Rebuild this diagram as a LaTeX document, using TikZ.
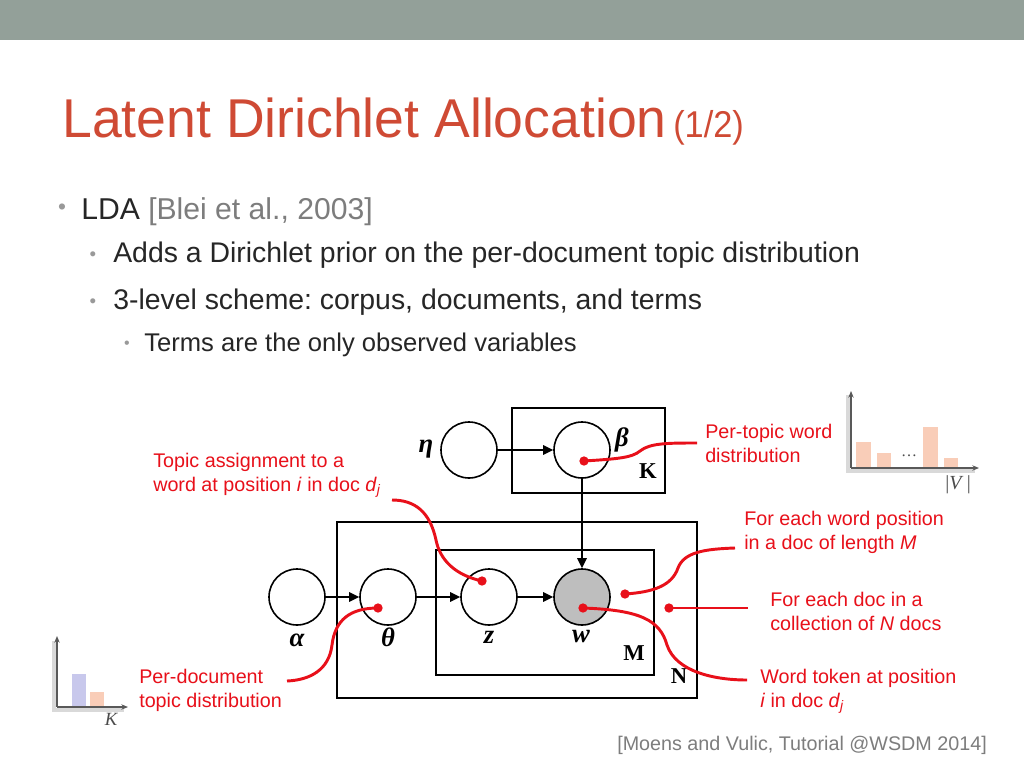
\documentclass[tikz,border=0pt]{standalone}
\usepackage{fontspec}
\setmainfont{Liberation Sans}
\newfontfamily\tms{Liberation Serif}
\usetikzlibrary{arrows.meta}
\frenchspacing
\definecolor{barcol}{RGB}{147,160,153}
\definecolor{titlecol}{RGB}{207,74,52}
\definecolor{callred}{RGB}{232,16,26}
\definecolor{peach}{RGB}{249,205,184}
\definecolor{lav}{RGB}{200,200,236}
\definecolor{txt}{RGB}{38,38,38}
\definecolor{gtxt}{RGB}{125,125,125}
\definecolor{wfill}{RGB}{190,190,190}
\tikzset{
  rv/.style={circle, draw=black, line width=1.2pt, minimum size=42pt, inner sep=0pt},
  obs/.style={rv, fill=wfill},
  plate/.style={draw=black, line width=1.4pt},
  edge/.style={-{Triangle[length=7.5pt,width=7pt]}, line width=1.5pt},
  call/.style={draw=callred, line width=2.2pt},
  rdot/.style={circle, fill=callred, inner sep=0pt, minimum size=7pt},
  lab/.style={font=\fontsize{14.8pt}{18pt}\selectfont, text=callred, align=left, anchor=base west, inner sep=0pt},
  var/.style={font=\tms\bfseries\itshape\fontsize{20pt}{22pt}\selectfont, inner sep=0pt},
  platelab/.style={font=\tms\bfseries\fontsize{17pt}{20pt}\selectfont, inner sep=0pt},
  bul/.style={text=black!40, inner sep=0pt},
  axshadow/.style={draw=black!15, line width=3pt},
  axline/.style={draw=black!65, line width=0.8pt},
}
\begin{document}
\begin{tikzpicture}[x=0.75pt,y=-0.75pt]
\useasboundingbox (0,0) rectangle (1024,768);
\fill[white] (0,0) rectangle (1024,768);
% top bar
\fill[barcol] (0,0) rectangle (1024,40);
% title
\node[anchor=base west, inner sep=0pt, text=titlecol, xscale=0.98, font=\fontsize{41pt}{48pt}\selectfont] (title) at (62,137) {Latent Dirichlet Allocation};
\node[anchor=base west, inner sep=0pt, text=titlecol, xscale=0.92, font=\fontsize{28pt}{32pt}\selectfont] (part) at (673,137) {(1/2)};
% bullets
\node[bul, font=\fontsize{17pt}{20pt}\selectfont] (b1) at (62,209) {•};
\node[anchor=base west, inner sep=0pt, text=txt, font=\fontsize{22.6pt}{27pt}\selectfont] (l1) at (81,219) {LDA \textcolor{gtxt}{[Blei et al., 2003]}};
\node[bul, font=\fontsize{14pt}{16pt}\selectfont] (b2) at (93,256) {•};
\node[anchor=base west, inner sep=0pt, text=txt, font=\fontsize{21.3pt}{24pt}\selectfont] (l2) at (113,262) {Adds a Dirichlet prior on the per-document topic distribution};
\node[bul, font=\fontsize{14pt}{16pt}\selectfont] (b3) at (93,303) {•};
\node[anchor=base west, inner sep=0pt, text=txt, font=\fontsize{21.3pt}{24pt}\selectfont] (l3) at (113,309) {3-level scheme: corpus, documents, and terms};
\node[bul, font=\fontsize{12pt}{14pt}\selectfont] (b4) at (127,345) {•};
\node[anchor=base west, inner sep=0pt, text=txt, font=\fontsize{19.2pt}{22pt}\selectfont] (l4) at (144,351) {Terms are the only observed variables};

% plates
\draw[plate] (512,408) rectangle (665,493);
\draw[plate] (337,522) rectangle (697,698);
\draw[plate] (436,550) rectangle (654,675);
\node[platelab] (Kl) at (648,471) {K};
\node[platelab] (Ml) at (634,653) {M};
\node[platelab] (Nl) at (679,676) {N};

% variables
\node[rv] (eta) at (469,450) {};
\node[rv] (beta) at (582,450) {};
\node[rv] (alpha) at (297,597) {};
\node[rv] (theta) at (388,597) {};
\node[rv] (z) at (489,597) {};
\node[obs] (w) at (582,597) {};
\node[var] (etal) at (426,449) {η};
\node[var] (betal) at (622,440) {β};
\node[var] (alphal) at (297,640) {α};
\node[var] (thetal) at (388,637) {θ};
\node[var] (zl) at (489,637) {z};
\node[var] (wl) at (581,636) {w};

% edges
\draw[edge] (eta) -- (beta);
\draw[edge] (beta) -- (w);
\draw[edge] (alpha) -- (theta);
\draw[edge] (theta) -- (z);
\draw[edge] (z) -- (w);

% callout dots
\node[rdot] (dbeta) at (584,461) {};
\node[rdot] (dz) at (482,581) {};
\node[rdot] (dtheta) at (378,608) {};
\node[rdot] (dw) at (583,608) {};
\node[rdot] (dM) at (625,594) {};
\node[rdot] (dN) at (669,608) {};
\coordinate (ebeta) at (697,443);
\coordinate (ez) at (392,500);
\coordinate (etheta) at (287,681);
\coordinate (ew) at (747,680);
\coordinate (eM) at (735,548);
\coordinate (eN) at (748,608);
\draw[call] (dbeta.center) .. controls (615,459) and (632,458) .. (640,451) .. controls (650,443) and (668,443) .. (ebeta);
\draw[call] (dz.center) .. controls (455,575) and (440,560) .. (436,540) .. controls (430,512) and (415,500) .. (ez);
\draw[call] (dtheta.center) .. controls (350,608) and (335,620) .. (332,645) .. controls (329,670) and (310,680) .. (etheta);
\draw[call] (dw.center) .. controls (640,610) and (660,620) .. (667,645) .. controls (676,672) and (715,680) .. (ew);
\draw[call] (dM.center) .. controls (655,592) and (672,585) .. (678,568) .. controls (684,552) and (705,549) .. (eM);
\draw[call] (dN.center) -- (eN);

% labels (anchor = baseline of last line)
\node[lab] (Lbeta) at (705,462) {Per-topic word\\distribution};
\node[lab] (Lz) at (153,491) {Topic assignment to a\\word at position \textit{i} in doc \textit{d}\textsubscript{\textit{j}}};
\node[lab] (LM) at (744,549) {For each word position\\in a doc of length \textit{M}};
\node[lab] (LN) at (770,630) {For each doc in a\\collection of \textit{N} docs};
\node[lab] (Ltheta) at (139,707) {Per-document\\topic distribution};
\node[lab] (Lw) at (760,707) {Word token at position\\\textit{i} in doc \textit{d}\textsubscript{\textit{j}}};

% histogram top right
\fill[peach] (856,442) rectangle (871,468);
\fill[peach] (877,453) rectangle (891,468);
\fill[peach] (923,427) rectangle (938,468);
\fill[peach] (944,458) rectangle (958,468);
\node[inner sep=0pt, text=black!70, font=\tms\fontsize{12pt}{14pt}\selectfont] (dots) at (909,456) {…};
\draw[axshadow] (848,395) -- (848,471) -- (975,471);
\draw[axline, -{Stealth[length=5pt,width=4pt]}] (851,468) -- (851,391);
\draw[axline, -{Stealth[length=5pt,width=4pt]}] (851,468) -- (979,468);
\node[inner sep=0pt, text=black!70, font=\tms\fontsize{15pt}{18pt}\selectfont] (Vl) at (958,485) {|\textit{V}\,|};

% histogram bottom left
\fill[lav] (72,674) rectangle (86,707);
\fill[peach] (90,692) rectangle (104,707);
\draw[axshadow] (54,641) -- (54,710) -- (124,710);
\draw[axline, -{Stealth[length=5pt,width=4pt]}] (57,707) -- (57,636);
\draw[axline, -{Stealth[length=5pt,width=4pt]}] (57,707) -- (128,707);
\node[inner sep=0pt, text=black!70, font=\tms\itshape\fontsize{14pt}{16pt}\selectfont] (Kax) at (111,719) {K};

% citation
\node[anchor=base west, inner sep=0pt, text=gtxt, font=\fontsize{14.8pt}{18pt}\selectfont] (cite) at (617,750) {[Moens and Vulic, Tutorial @WSDM 2014]};
\end{tikzpicture}
\end{document}
